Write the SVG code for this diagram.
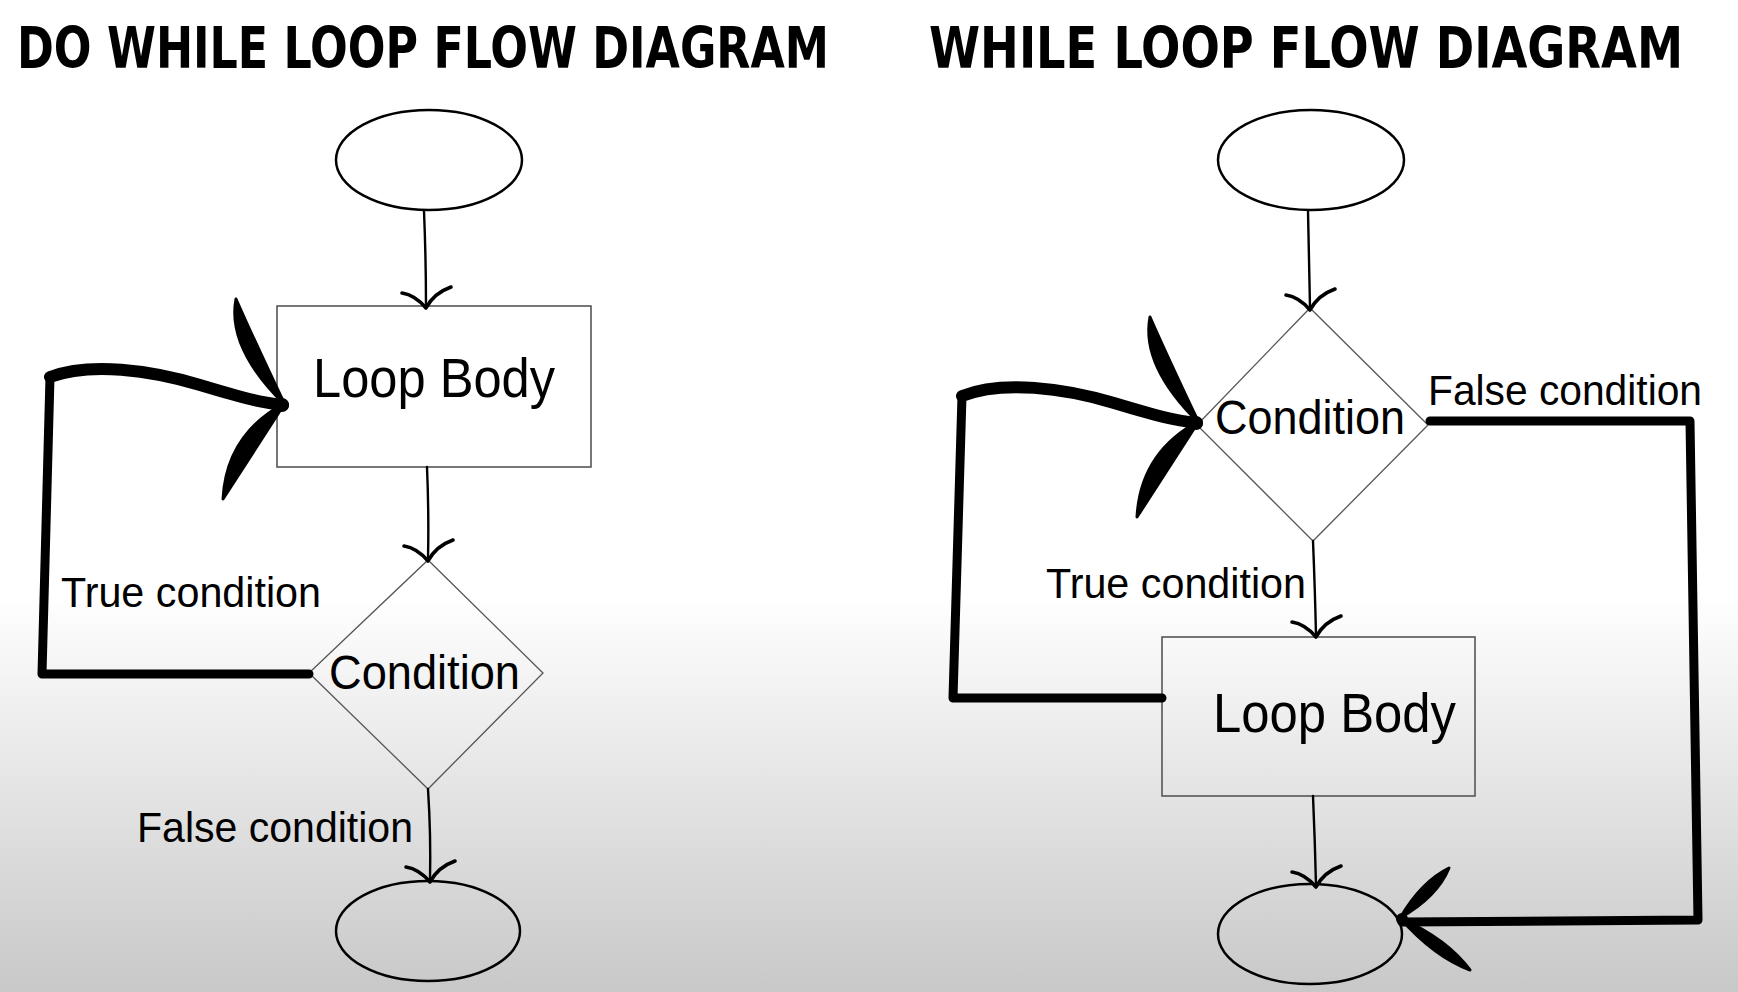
<svg xmlns="http://www.w3.org/2000/svg" width="1738" height="992" viewBox="0 0 1738 992">
<defs>
<linearGradient id="bg" x1="0" y1="0" x2="0" y2="1">
<stop offset="0" stop-color="#ffffff"/>
<stop offset="0.6" stop-color="#ffffff"/>
<stop offset="1" stop-color="#c8c8c8"/>
</linearGradient>
<style>
.title{font-family:"DejaVu Sans Condensed","Liberation Sans",sans-serif;font-weight:bold;font-size:48px;fill:#000}
.lbl{font-family:"Liberation Sans",Arial,sans-serif;fill:#000}
.big{font-size:55px}
.cond{font-size:49px}
.small{font-size:43px}
.oval{fill:none;stroke:#000;stroke-width:2.5}
.box{fill:none;stroke:#555;stroke-width:1.6}
.dia{fill:none;stroke:#555;stroke-width:1.3}
.thin{fill:none;stroke:#000;stroke-width:2.4;stroke-linecap:round;stroke-linejoin:round}
.head{fill:none;stroke:#000;stroke-width:3.6;stroke-linecap:round;stroke-linejoin:round}
.thick{fill:none;stroke:#000;stroke-width:9;stroke-linecap:round;stroke-linejoin:round}
.curve{fill:none;stroke:#000;stroke-width:12;stroke-linecap:round;stroke-linejoin:round}
.wing{fill:#000;stroke:#000;stroke-width:3;stroke-linejoin:round}
</style>
</defs>
<rect x="0" y="0" width="1738" height="992" fill="url(#bg)"/>

<text class="title" transform="translate(17,68) scale(1,1.2)" x="0" y="0" textLength="812" lengthAdjust="spacingAndGlyphs">DO WHILE LOOP FLOW DIAGRAM</text>
<text class="title" transform="translate(929,68) scale(1,1.2)" x="0" y="0" textLength="754" lengthAdjust="spacingAndGlyphs">WHILE LOOP FLOW DIAGRAM</text>

<!-- Left diagram nodes -->
<g id="dw-start"><ellipse class="oval" cx="429" cy="160" rx="93" ry="50"/></g>
<g id="dw-body"><rect class="box" x="277" y="306" width="314" height="161"/>
<text class="lbl big" x="313" y="397" textLength="242" lengthAdjust="spacingAndGlyphs">Loop Body</text></g>
<g id="dw-cond"><polygon class="dia" points="428,560 543,673 428,789 309,673"/>
<text class="lbl cond" x="329" y="689" textLength="191" lengthAdjust="spacingAndGlyphs">Condition</text></g>
<g id="dw-end"><ellipse class="oval" cx="428" cy="931" rx="92" ry="50"/></g>

<!-- Right diagram nodes -->
<g id="w-start"><ellipse class="oval" cx="1311" cy="160" rx="93" ry="50"/></g>
<g id="w-cond"><polygon class="dia" points="1310,308 1428,425 1313,541 1197,425"/>
<text class="lbl cond" x="1215" y="434" textLength="190" lengthAdjust="spacingAndGlyphs">Condition</text></g>
<g id="w-body"><rect class="box" x="1162" y="637" width="313" height="159"/>
<text class="lbl big" x="1213" y="732" textLength="243" lengthAdjust="spacingAndGlyphs">Loop Body</text></g>
<g id="w-end"><ellipse class="oval" cx="1310" cy="934" rx="92" ry="50"/></g>

<g id="connectors">
<!-- Left -->
<path class="thin" d="M424 211 Q426 260 426 306"/>
<path class="head" d="M402 293 Q415 295 426 308 Q434 293 451 287"/>
<path class="thin" d="M427 467 Q429 515 428 559"/>
<path class="head" d="M404 546 Q417 548 428 561 Q436 546 453 540"/>
<path class="thin" d="M428 789 Q431 835 430 880"/>
<path class="head" d="M406 867 Q419 869 430 882 Q438 867 455 861"/>
<path class="thick" d="M309 674 L42 674 L50 377"/>
<path class="curve" d="M50 377 C 90 362, 150 370, 200 385 S 260 402, 283 405"/>
<path class="wing" d="M285 405 Q226.8 347.9 236 299 Q252.2 336.1 285 405 Z"/>
<path class="wing" d="M285 403 Q226.5 434.3 223 499 Q253.5 451.7 285 403 Z"/>
<circle cx="282" cy="405" r="7" fill="#000"/>
<text class="lbl small" x="61" y="607" textLength="260" lengthAdjust="spacingAndGlyphs">True condition</text>
<text class="lbl small" x="137" y="842" textLength="276" lengthAdjust="spacingAndGlyphs">False condition</text>

<!-- Right -->
<path class="thin" d="M1308 211 Q1309 260 1310 307"/>
<path class="head" d="M1286 295 Q1299 297 1310 310 Q1318 295 1335 289"/>
<path class="thin" d="M1313 541 Q1315 590 1316 635"/>
<path class="head" d="M1292 622 Q1305 624 1316 637 Q1324 622 1341 616"/>
<path class="thin" d="M1313 796 Q1315 842 1316 885"/>
<path class="head" d="M1292 872 Q1305 874 1316 887 Q1324 872 1341 866"/>
<path class="thick" d="M1162 698 L953 698 L962 396"/>
<path class="curve" d="M962 396 C 1002 380, 1064 388, 1114 403 S 1174 420, 1197 423"/>
<g transform="translate(914,18)">
<path class="wing" d="M285 405 Q226.8 347.9 236 299 Q252.2 336.1 285 405 Z"/>
<path class="wing" d="M285 403 Q226.5 434.3 223 499 Q253.5 451.7 285 403 Z"/>
<circle cx="282" cy="405" r="7" fill="#000"/>
</g>
<path class="thick" d="M1430 421 L1690 421 L1698 920 L1402 922"/>
<path class="wing" d="M1400 918 Q1421.6 881.3 1449 868 Q1437.4 896.7 1400 918 Z"/>
<path class="wing" d="M1400 918 Q1434.4 956.8 1470 970 Q1447.6 939.2 1400 918 Z"/>
<circle cx="1402" cy="919" r="6" fill="#000"/>
<text class="lbl small" x="1428" y="405" textLength="274" lengthAdjust="spacingAndGlyphs">False condition</text>
<text class="lbl small" x="1046" y="598" textLength="260" lengthAdjust="spacingAndGlyphs">True condition</text>
</g>
</svg>
